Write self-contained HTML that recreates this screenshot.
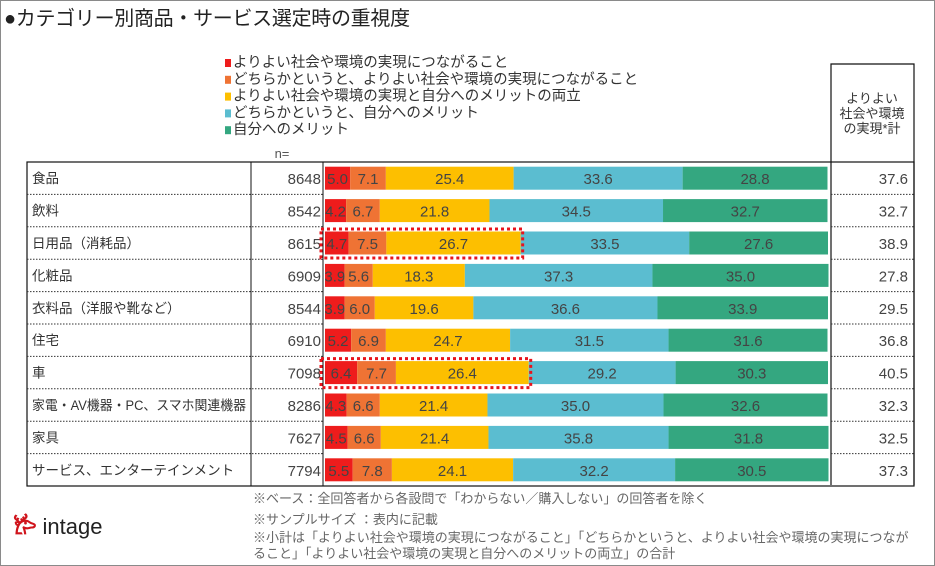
<!DOCTYPE html>
<html><head><meta charset="utf-8"><style>
body{margin:0;background:#fff;font-family:"Liberation Sans","Noto Sans CJK JP",sans-serif;}
#wrap{position:relative;width:933px;height:564px;border:1px solid #8a8a8a;overflow:hidden;}
.t{position:absolute;white-space:nowrap;color:#333;}
</style></head><body>
<div id="wrap">
<div class="t" style="left:3px;top:1px;font-size:20px;color:#222;letter-spacing:-0.3px;">●カテゴリー別商品・サービス選定時の重視度</div>
<svg id="svg" width="933" height="564" style="position:absolute;left:0;top:0"></svg>
<div class="t" style="left:252px;top:487px;font-size:13px;color:#666;">※ベース：全回答者から各設問で「わからない／購入しない」の回答者を除く</div>
<div class="t" style="left:252px;top:508px;font-size:13px;color:#666;">※サンプルサイズ ：表内に記載</div>
<div class="t" style="left:252px;top:529px;font-size:13px;color:#666;line-height:16px;">※小計は「よりよい社会や環境の実現につながること」「どちらかというと、よりよい社会や環境の実現につなが<br>ること」「よりよい社会や環境の実現と自分へのメリットの両立」の合計</div>
<div class="t" style="left:12px;top:510px;font-size:22px;color:#222;"><span style="color:#d0141c;font-weight:bold">𐂂</span> intage</div>
</div>
<script>
const categories=["食品","飲料","日用品（消耗品）","化粧品","衣料品（洋服や靴など）","住宅","車","家電・AV機器・PC、スマホ関連機器","家具","サービス、エンターテインメント"];
const nValues=[8648,8542,8615,6909,8544,6910,7098,8286,7627,7794];
const s1=[5.0,4.2,4.7,3.9,3.9,5.2,6.4,4.3,4.5,5.5];
const s2=[7.1,6.7,7.5,5.6,6.0,6.9,7.7,6.6,6.6,7.8];
const s3=[25.4,21.8,26.7,18.3,19.6,24.7,26.4,21.4,21.4,24.1];
const s4=[33.6,34.5,33.5,37.3,36.6,31.5,29.2,35.0,35.8,32.2];
const s5=[28.8,32.7,27.6,35.0,33.9,31.6,30.3,32.6,31.8,30.5];
const totals=[37.6,32.7,38.9,27.8,29.5,36.8,40.5,32.3,32.5,37.3];
const highlighted=[2,6];
const seriesNames=["よりよい社会や環境の実現につながること","どちらかというと、よりよい社会や環境の実現につながること","よりよい社会や環境の実現と自分へのメリットの両立","どちらかというと、自分へのメリット","自分へのメリット"];
const colors=["#ee1c1c","#ef7334","#fdbf00","#5bbdd0","#34a780"];
const series=[s1,s2,s3,s4,s5];
const NS="http://www.w3.org/2000/svg";
const svg=document.getElementById('svg');
const X0=324,XW=503,TOP=161,RH=32.4,BH=23;
const xs=v=>X0+v/100*XW;
const yRow=i=>TOP+i*RH;
function mk(tag,attrs,txt){const e=document.createElementNS(NS,tag);for(const k in attrs)e.setAttribute(k,attrs[k]);if(txt!==undefined)e.textContent=txt;svg.appendChild(e);return e;}
seriesNames.forEach((nm,k)=>{
 const y=66+k*16.8;
 const r=mk('rect',{x:224,y:y-8,width:6,height:8,fill:colors[k]});
 
 
 const t=mk('text',{x:232,y:y,'font-size':14.5,fill:'#333'},nm);
 
 
});
const nl=mk('text',{x:281,y:157,'font-size':13,fill:'#555','text-anchor':'middle'},'n=');


const hb=mk('path',{d:'M830,484 L830,63 L913,63 L913,484',fill:'none',stroke:'#111','stroke-width':1.2});


["よりよい","社会や環境","の実現*計"].forEach((s,k)=>{
 const t=mk('text',{x:871,y:102+k*15,'font-size':13,fill:'#333','text-anchor':'middle'},s);
 
 
});
const bottom=yRow(categories.length);
const tf=mk('rect',{x:26,y:TOP,width:887,height:bottom-TOP,fill:'none',stroke:'#111','stroke-width':1.2});


[250,322].forEach(x=>{const l=mk('line',{x1:x,x2:x,y1:TOP,y2:bottom,stroke:'#111','stroke-width':1});
 
 });
categories.forEach((c,i)=>{
 const y=yRow(i),cy=y+RH/2;
 if(i>0){
  [[26,322],[830,913]].forEach(([a,b])=>{const l=mk('line',{x1:a,x2:b,y1:y,y2:y,stroke:'#333','stroke-width':1,'stroke-dasharray':'1.5,1.5'});
  
  });
 }
 const lt=mk('text',{x:31,y:cy+5,'font-size':13.5,fill:'#333'},c);
 
 
 if(lt.getComputedTextLength()>214){lt.setAttribute('textLength',214);lt.setAttribute('lengthAdjust','spacingAndGlyphs');}
 const nt=mk('text',{x:320,y:cy+6,'font-size':15,fill:'#444','text-anchor':'end'},nValues[i]);
 
 
 let acc=0;
 series.forEach((s,k)=>{
  const v=s[i];
  const r=mk('rect',{x:xs(acc),y:cy-BH/2,width:xs(acc+v)-xs(acc),height:BH,fill:colors[k]});
  
  
  const t=mk('text',{x:(xs(acc)+xs(acc+v))/2,y:cy+6,'font-size':15,fill:'#444','text-anchor':'middle'},v.toFixed(1));
  
  
  acc+=v;
 });
 const tt=mk('text',{x:907,y:cy+6,'font-size':15,fill:'#444','text-anchor':'end'},totals[i].toFixed(1));
 
 
});
highlighted.forEach(i=>{
 const cy=yRow(i)+RH/2;
 const x2=xs(s1[i]+s2[i]+s3[i])+2;
 const r=mk('rect',{x:320,y:cy-14,width:x2-320,height:29,fill:'none',stroke:'#e8141c','stroke-width':3,'stroke-dasharray':'3,3'});
 
 
});
</script>
</body></html>
